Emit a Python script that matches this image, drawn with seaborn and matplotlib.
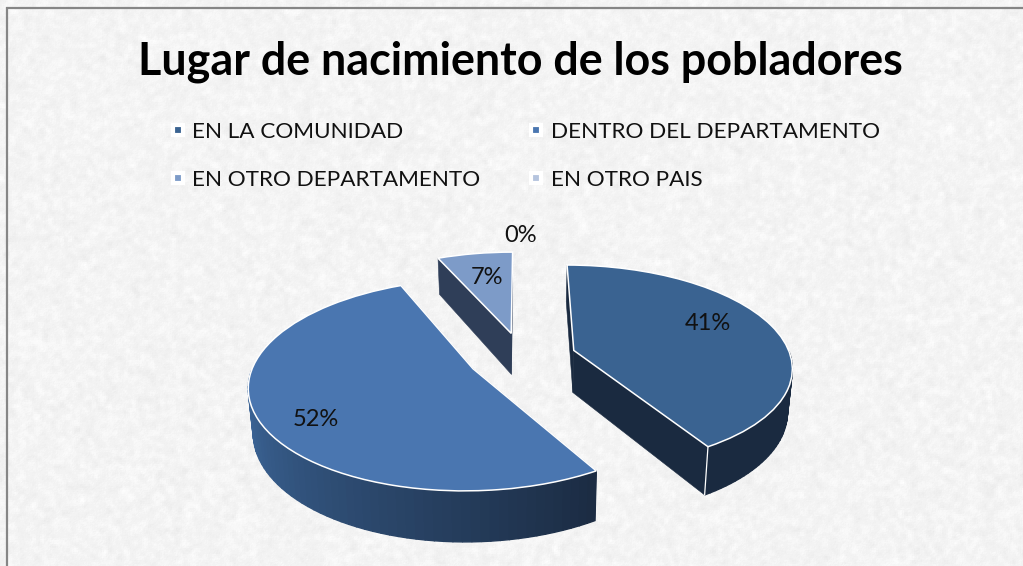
"""Lugar de nacimiento de los pobladores: exploded 3D-look pie"""

import numpy as np
import seaborn as sns
import matplotlib.pyplot as plt
from matplotlib.lines import Line2D
from matplotlib.patches import Rectangle
from matplotlib.transforms import Transform

TITLE = "Lugar de nacimiento de los pobladores"
CATEGORIES = ["EN LA COMUNIDAD", "DENTRO DEL DEPARTAMENTO",
              "EN OTRO DEPARTAMENTO", "EN OTRO PAIS"]
# labels only show whole percents, the slice angles give the decimals
VALUES = [41.4, 52.0, 6.6, 0]

TOP_COLORS = ["#3A6391", "#4A76B0", "#7D9BC8", "#B5C4DE"]
SIDE_LEFT = ["#1A2A40", "#3F6BA0", "#2F3E58", "#2F3E58"]
SIDE_RIGHT = ["#1A2A40", "#1B2B42", "#2F3E58", "#2F3E58"]
LABEL_PX = [(708, 324), (316, 420), (487, 278), (521, 235)]

W, H = 1023, 566
CX, CY = 522, 357
SX, SY = 217, 100
EXPLODE = 0.25
TILT = 0.15
DEPTH = 0.425

sns.set_theme(style="white")
plt.rcParams["font.family"] = ["Lato", "DejaVu Sans"]


def project(xy, z=0.0):
    x, y = xy[:, 0], xy[:, 1]
    d = 1 + TILT * y
    return np.column_stack([x / d * (1 - 0.018 * z), y / d - z * DEPTH / d])


class PieProjection(Transform):
    input_dims = output_dims = 2

    def transform_non_affine(self, values):
        return project(np.asarray(values, dtype=float))


def px(x, y):
    return (x - CX) / SX, (CY - y) / SY


def paper_texture():
    rng = np.random.default_rng(4)
    coarse = rng.normal(size=(H // 4 + 2, W // 4 + 2))
    coarse = np.kron(coarse, np.ones((4, 4)))[:H, :W]
    for axis in (0, 1):
        coarse = (coarse + np.roll(coarse, 2, axis) + np.roll(coarse, -2, axis)) / 3
    fine = rng.normal(size=(H, W))
    fine = (fine + np.roll(fine, 1, 0) + np.roll(fine, 1, 1)) / 3
    return np.clip(0.955 + 0.016 * coarse + 0.008 * fine, 0, 1)


def draw_side(ax, wedge, left, right):
    c = np.array(wedge.center)
    t1, t2 = np.radians(wedge.theta1), np.radians(wedge.theta2)
    edge = lambda t: c + np.array([np.cos(t), np.sin(t)])

    # cut faces first, the curved wall goes over them
    for t in (t1, t2):
        n = np.array([c, edge(t)])
        quad = np.vstack([project(n), project(n, 1.0)[::-1]])
        ax.fill(quad[:, 0], quad[:, 1], color=right, lw=0.4, zorder=2)

    angles = np.linspace(t1, t2, 90)
    angles = (angles + np.pi) % (2 * np.pi) - np.pi  # wrap to -pi..pi
    front = np.sort(angles[angles < 0.02])  # lower half of the rim only
    if len(front) < 2:
        return
    colors = sns.blend_palette([left, right], len(front))
    for a, b, col in zip(front[:-1], front[1:], colors):
        n = np.array([edge(a), edge(b)])
        quad = np.vstack([project(n), project(n, 1.0)[::-1]])
        ax.fill(quad[:, 0], quad[:, 1], color=col, lw=1.0, zorder=3)
    # white seam where the curved wall meets a visible cut face
    for t in (t1, t2):
        if np.sin(t) < 0 and np.cos(t) > 0 and (wedge.theta2 - wedge.theta1) < 170:
            n = edge(t)[None, :]
            ax.plot(*np.vstack([project(n), project(n, 1.0)]).T,
                    color="white", lw=0.9, zorder=4)


fig = plt.figure(figsize=(W / 100, H / 100), dpi=100, facecolor="white")
fig.figimage(paper_texture(), 0, 0, cmap="gray", vmin=0, vmax=1, zorder=-5)
fig.add_artist(Rectangle((7 / W, -0.05), 1.1, (H - 8) / H + 0.05,
                         transform=fig.transFigure, fill=False,
                         ec="#868686", lw=1.6))

ax = fig.add_axes([0, 0, 1, 1])
ax.patch.set_alpha(0)
wedges, _, pcts = ax.pie(VALUES, colors=TOP_COLORS, explode=[EXPLODE] * 4,
                         startangle=90, counterclock=False, autopct="%1.0f%%",
                         wedgeprops=dict(edgecolor="white", linewidth=1.1))
ax.set_aspect("auto")
ax.set_xlim(-CX / SX, (W - CX) / SX)
ax.set_ylim(-(H - CY) / SY, CY / SY)
ax.axis("off")

projection = PieProjection() + ax.transData
for i, wedge in enumerate(wedges):
    wedge.set_transform(projection)
    wedge.set_zorder(5)
    if VALUES[i] == 0:
        wedge.set_visible(False)
        continue
    draw_side(ax, wedge, SIDE_LEFT[i], SIDE_RIGHT[i])

for txt, pos in zip(pcts, LABEL_PX):
    txt.set_position(px(*pos))
    txt.set_ha("center")
    txt.set_va("center")
    txt.set_fontsize(17)
    txt.set_color("#111111")
    txt.set_zorder(6)

fig.text(520 / W, 1 - 62 / H, TITLE, ha="center", va="center",
         fontsize=32.35, fontweight="bold", color="black")

handles = [Line2D([], [], ls="none", marker="s", ms=6.5, mfc=c, mec="white", mew=3)
           for c in TOP_COLORS]
# legend fills row by row in the reference, matplotlib fills by column
order = [0, 2, 1, 3]
fig.legend([handles[i] for i in order], [CATEGORIES[i] for i in order],
           ncol=2, frameon=False, loc="upper left",
           bbox_to_anchor=(171 / W, 1 - 121.5 / H), fontsize=16.2, labelcolor="#111111",
           handlelength=0.6, handletextpad=0.35, columnspacing=2.17, labelspacing=1.25,
           borderpad=0, borderaxespad=0)

fig.savefig("out.png", dpi=100)
